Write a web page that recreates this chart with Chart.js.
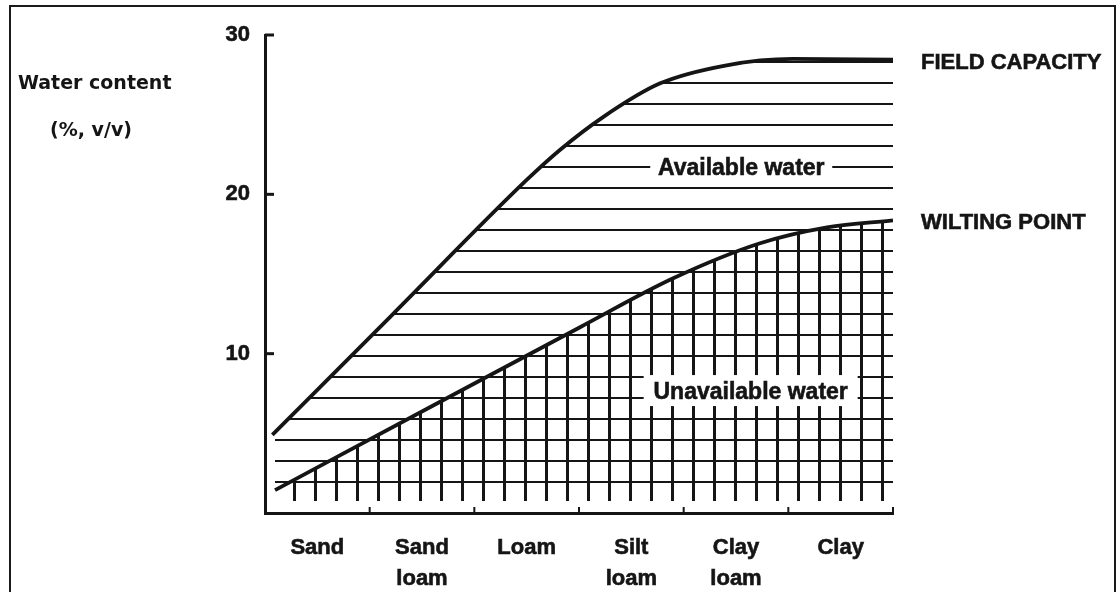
<!DOCTYPE html>
<html><head><meta charset="utf-8">
<script src="https://cdn.jsdelivr.net/npm/chart.js@4.4.0/dist/chart.umd.min.js"></script>
<style>
html,body{margin:0;padding:0;background:#fff;overflow:hidden;width:1119px;height:592px}
#frame{position:absolute;left:9px;top:5px;width:1107px;height:700px;border:2px solid #1a1a1a;box-sizing:border-box}
#wrap{position:absolute;left:0;top:0;width:1119px;height:592px}
</style></head>
<body>
<div id="frame"></div>
<div id="wrap"><canvas id="c" width="1119" height="592"></canvas></div>
<script>
// ---- data ----
const categories = [["Sand"], ["Sand", "loam"], ["Loam"], ["Silt", "loam"], ["Clay", "loam"], ["Clay"]];
const categoryCenters = [0.5, 1.5, 2.5, 3.5, 4.5, 5.5];
const categoryBounds = [1, 2, 3, 4, 5, 6];
const yTicks = [10, 20, 30];
const fieldCapacityX = [0.07, 1.225, 2.5, 2.82, 3.23, 3.77, 4.41, 5.04, 6.0];
const fieldCapacityY = [4.9, 12.5, 20.9, 22.8, 24.85, 26.95, 28.1, 28.5, 28.45];
const wiltingPointX = [0.096, 1.58, 3.01, 3.9, 4.73, 5.37, 6.0];
const wiltingPointY = [1.44, 6.65, 11.66, 14.73, 16.93, 17.93, 18.37];

const INK = '#151515';
const FONT = '"Liberation Sans", Arial, sans-serif';

function makePattern(grid) {
  const c = document.createElement('canvas');
  c.width = 21; c.height = 21;
  const g = c.getContext('2d');
  g.fillStyle = INK;
  g.fillRect(0, 19, 21, 2);
  if (grid) { g.fillRect(0, 0, 2, 21); g.fillRect(20, 0, 1, 21); }
  return g.createPattern(c, 'repeat');
}
const hatchH = makePattern(false);
const hatchGrid = makePattern(true);

function boldText(ctx, txt, x, y) {
  ctx.fillText(txt, x, y);
  ctx.strokeText(txt, x, y);
}

const annot = {
  id: 'annot',
  afterDatasetsDraw(chart) {
    const {ctx, scales: {x, y}} = chart;
    ctx.save();
    ctx.strokeStyle = INK;
    ctx.lineWidth = 2;
    categoryBounds.forEach(v => {
      const px = x.getPixelForValue(v);
      ctx.beginPath(); ctx.moveTo(px, y.bottom); ctx.lineTo(px, y.bottom - 6); ctx.stroke();
    });
    ctx.lineWidth = 3;
    yTicks.forEach(v => {
      const py = y.getPixelForValue(v);
      ctx.beginPath(); ctx.moveTo(x.left, py); ctx.lineTo(x.left + 9, py); ctx.stroke();
    });
    // labels inside plot
    ctx.fillStyle = '#fff';
    const ax = x.getPixelForValue(4.55), ay = y.getPixelForValue(21.7);
    ctx.fillRect(ax - 91, ay - 11, 182, 22);
    const ux = x.getPixelForValue(4.64), uy = y.getPixelForValue(7.59);
    ctx.fillRect(ux - 107, uy - 17, 214, 31);
    ctx.fillStyle = INK;
    ctx.lineWidth = 0.6;
    ctx.textBaseline = 'middle';
    ctx.textAlign = 'center';
    ctx.font = 'bold 23px ' + FONT;
    boldText(ctx, 'Available water', ax, ay + 1);
    boldText(ctx, 'Unavailable water', ux, uy + 1);
    // curve end labels
    ctx.textAlign = 'left';
    ctx.font = 'bold 22px ' + FONT;
    const fcY = y.getPixelForValue(fieldCapacityY[fieldCapacityY.length - 1]);
    const wpY = y.getPixelForValue(wiltingPointY[wiltingPointY.length - 1]);
    boldText(ctx, 'FIELD CAPACITY', x.right + 28, fcY + 3);
    boldText(ctx, 'WILTING POINT', x.right + 28, wpY + 3);
    // axis title
    ctx.font = 'bold 19px "DejaVu Sans", sans-serif';
    ctx.fillText('Water content', 18, 84);
    ctx.fillText('(%, v/v)', 50, 131);
    ctx.restore();
  }
};

new Chart(document.getElementById('c'), {
  type: 'line',
  data: {
    datasets: [
      {
        label: 'Field capacity',
        data: fieldCapacityX.map((v, i) => ({x: v, y: fieldCapacityY[i]})),
        borderColor: INK, borderWidth: 3.8, pointRadius: 0,
        cubicInterpolationMode: 'monotone',
        fill: '+1', backgroundColor: hatchH
      },
      {
        label: 'Wilting point',
        data: wiltingPointX.map((v, i) => ({x: v, y: wiltingPointY[i]})),
        borderColor: INK, borderWidth: 3.8, pointRadius: 0,
        cubicInterpolationMode: 'monotone',
        fill: {value: 0.75}, backgroundColor: hatchGrid
      }
    ]
  },
  options: {
    responsive: false,
    animation: false,
    layout: {padding: {left: 0, right: 226, top: 35, bottom: 0}},
    plugins: {legend: {display: false}, tooltip: {enabled: false}},
    scales: {
      x: {
        type: 'linear', min: 0, max: 6,
        afterBuildTicks: s => { s.ticks = categoryCenters.map(v => ({value: v})); },
        afterFit: s => { s.height = 79; },
        grid: {display: false, drawTicks: false},
        border: {display: true, color: INK, width: 3},
        ticks: {
          autoSkip: false, maxRotation: 0, padding: 20, color: INK,
          textStrokeWidth: 0.6, textStrokeColor: INK,
          font: {family: FONT, size: 22, weight: 'bold', lineHeight: 1.4},
          callback: (v, i) => categories[i]
        }
      },
      y: {
        min: 0, max: 30,
        afterBuildTicks: s => { s.ticks = yTicks.map(v => ({value: v})); },
        afterFit: s => { s.width = 265; },
        grid: {display: false, drawTicks: false},
        border: {display: true, color: INK, width: 3},
        ticks: {
          padding: 15, color: INK,
          textStrokeWidth: 0.6, textStrokeColor: INK,
          font: {family: FONT, size: 22, weight: 'bold'}
        }
      }
    }
  },
  plugins: [annot]
});
</script>
</body></html>
